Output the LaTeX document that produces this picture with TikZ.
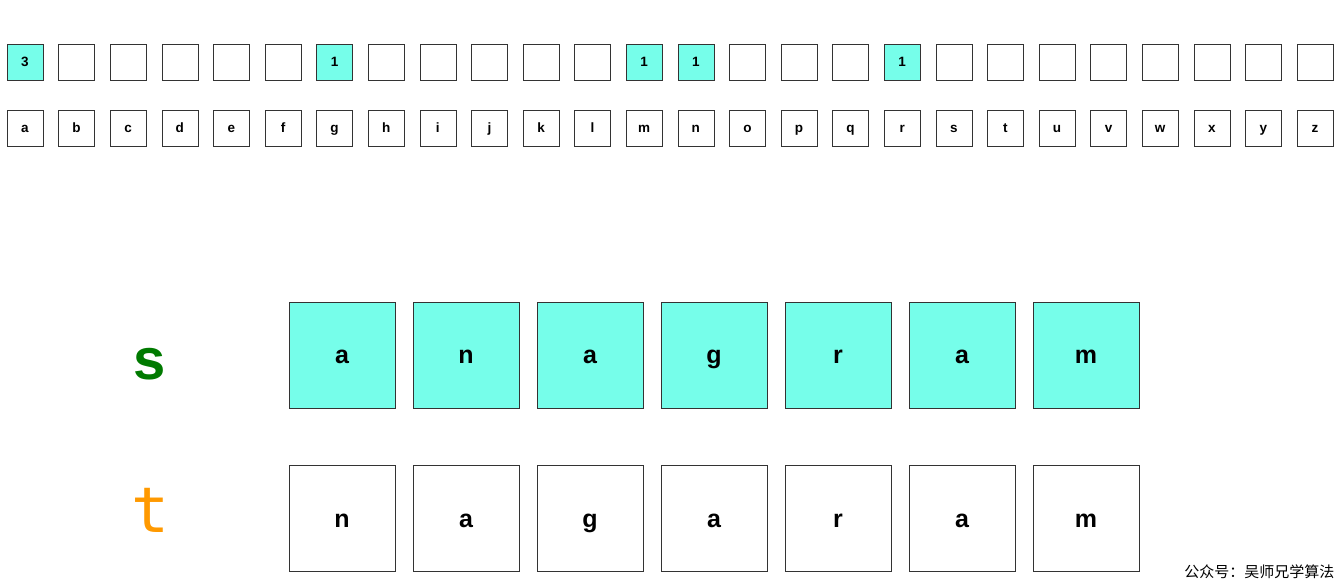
\documentclass[tikz,border=0pt]{standalone}
\usepackage{fontspec}
\setmainfont{Liberation Sans}
\newfontfamily\monofont{DejaVu Sans Mono}
\newfontfamily\cjkfont{Noto Sans CJK SC}
\definecolor{cellcyan}{RGB}{118,254,234}
\definecolor{sgreen}{RGB}{0,122,0}
\definecolor{torange}{RGB}{255,153,0}

\begin{document}
\begin{tikzpicture}[x=1pt, y=-1pt,
    small/.style={draw=black!80, minimum size=36pt, inner sep=0pt, text height=10pt, text depth=0pt,
        font=\fontsize{13.5}{13.5}\selectfont\bfseries},
    big/.style={draw=black!80, minimum size=106pt, inner sep=0pt, text height=18pt, text depth=0pt,
        font=\fontsize{25}{25}\selectfont\bfseries},
    hit/.style={fill=cellcyan}]
    \useasboundingbox (0,0) rectangle (1342,585);

    % count row and alphabet row
    \foreach \v [count=\i] in {3,0,0,0,0,0,1,0,0,0,0,0,1,1,0,0,0,1,0,0,0,0,0,0,0,0} {
        \ifnum\v>0
            \node[small, hit] (cnt-\i) at ({25+51.6*(\i-1)},62) {\v};
        \else
            \node[small] (cnt-\i) at ({25+51.6*(\i-1)},62) {};
        \fi
    }
    \foreach \ch [count=\i] in {a,...,z}
        \node[small] (chr-\ch) at ({25+51.6*(\i-1)},128) {\ch};

    % the two strings
    \node[text=sgreen, font=\fontsize{58}{58}\selectfont\bfseries] (s-label) at (150,364) {s};
    \node[text=torange, font=\monofont\fontsize{63}{63}\selectfont] (t-label) at (150,510) {t};
    \foreach \ch [count=\i] in {a,n,a,g,r,a,m}
        \node[big, hit] (s-\i) at ({342+124*(\i-1)},355) {\ch};
    \foreach \ch [count=\i] in {n,a,g,a,r,a,m}
        \node[big] (t-\i) at ({342+124*(\i-1)},518) {\ch};

    \node[anchor=east, font=\cjkfont\fontsize{15}{15}\selectfont] (footer) at (1338,572) {公众号：吴师兄学算法};
\end{tikzpicture}
\end{document}
